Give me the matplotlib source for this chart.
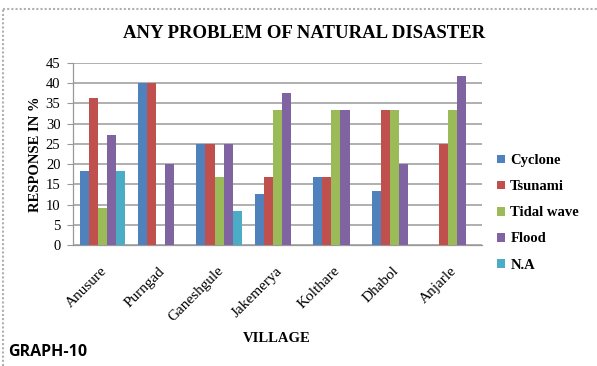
import matplotlib
matplotlib.use("Agg")
import matplotlib.pyplot as plt
import numpy as np
from matplotlib.lines import Line2D

villages = ["Anusure", "Purngad", "Ganeshgule", "Jakemerya", "Kolthare", "Dhabol", "Anjarle"]
series = ["Cyclone", "Tsunami", "Tidal wave", "Flood", "N.A"]
cyclone = [18.2, 40.0, 25.0, 12.5, 16.7, 13.3, 0.0]
tsunami = [36.4, 40.0, 25.0, 16.7, 16.7, 33.3, 25.0]
tidal_wave = [9.1, 0.0, 16.7, 33.3, 33.3, 33.3, 33.3]
flood = [27.3, 20.0, 25.0, 37.5, 33.3, 20.0, 41.7]
not_answered = [18.2, 0.0, 8.3, 0.0, 0.0, 0.0, 0.0]
y_ticks = [0, 5, 10, 15, 20, 25, 30, 35, 40, 45]

colors = ["#4F81BD", "#C0504D", "#9BBB59", "#8064A2", "#4BACC6"]
SERIF = "Liberation Serif"

fig = plt.figure(figsize=(5.97, 3.66), dpi=100)
ax = fig.add_axes([73 / 597, 1 - 245 / 366, (482 - 73) / 597, (245 - 63) / 366])

x = np.arange(len(villages))
width = 0.155
values = [cyclone, tsunami, tidal_wave, flood, not_answered]
for i, (name, vals, col) in enumerate(zip(series, values, colors)):
    ax.bar(x + (i - 2) * width, vals, width, color=col, label=name, zorder=3)

ax.set_xlim(-0.5, len(villages) - 0.5)
ax.set_ylim(0, 45)
ax.set_yticks(y_ticks)
ax.set_yticklabels([str(t) for t in y_ticks], family=SERIF, fontsize=10.5)
ax.set_xticks(x - 0.04)
ax.set_xticklabels(villages, rotation=45, ha="right", rotation_mode="anchor",
                   family=SERIF, fontsize=11)
ax.tick_params(axis="x", length=0, pad=14)
ax.tick_params(axis="y", length=4, width=0.8, color="#999999", pad=5)
ax.grid(True, axis="y", color="#9a9a9a", lw=1.1, zorder=0)
for s in ("top", "right"):
    ax.spines[s].set_visible(False)
for s in ("left", "bottom"):
    ax.spines[s].set_color("#999999")
    ax.spines[s].set_linewidth(0.9)

ax.set_ylabel("RESPONSE IN %", family=SERIF, fontweight="bold", fontsize=10.5, labelpad=3)

fig.text(304 / 597, 1 - 34 / 366, "ANY PROBLEM OF NATURAL DISASTER", family=SERIF,
         fontweight="bold", fontsize=13.5, ha="center", va="center")
fig.text(277 / 597, 1 - 338 / 366, "VILLAGE", family=SERIF, fontweight="bold",
         fontsize=10.5, ha="center", va="center")
fig.text(8 / 597, 1 - 352 / 366, "GRAPH-10", family="Open Sans", fontweight="bold",
         fontsize=11.5, ha="left", va="center")

leg = fig.legend(loc="upper left", bbox_to_anchor=(484 / 597, 1 - 141 / 366),
                 frameon=False, prop={"family": SERIF, "size": 10.5, "weight": "bold"},
                 handlelength=0.55, handleheight=0.55, handletextpad=0.35,
                 labelspacing=0.9)

# dotted frame along the top and left edges
fig.add_artist(Line2D([3 / 597, 1], [1 - 9 / 366, 1 - 9 / 366], transform=fig.transFigure,
                      color="#b0b0b0", lw=1.5, ls=(0, (1, 1))))
fig.add_artist(Line2D([3 / 597, 3 / 597], [0, 1 - 9 / 366], transform=fig.transFigure,
                      color="#b0b0b0", lw=1.5, ls=(0, (1, 1))))

fig.savefig("out.png", dpi=100)
